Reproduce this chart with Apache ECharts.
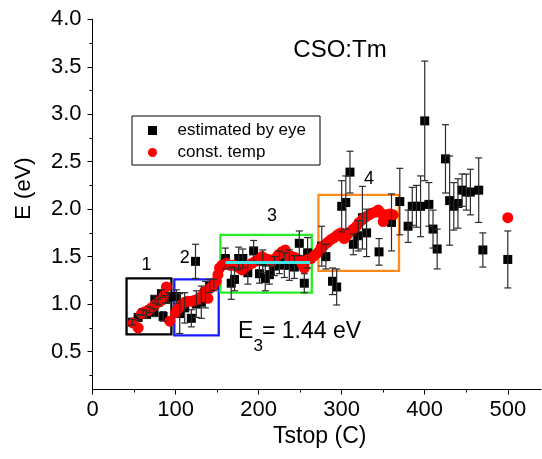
<!DOCTYPE html>
<html>
<head>
<meta charset="utf-8">
<script src="https://cdn.jsdelivr.net/npm/echarts@6/dist/echarts.min.js"></script>
<style>
  html, body { margin: 0; padding: 0; background: #fff; }
  #chart { width: 542px; height: 459px; }
</style>
</head>
<body>
<div id="chart"></div>
<script>
// Activation energy vs. stop temperature, CSO:Tm
const FONT = '"Liberation Sans", Arial, Helvetica, sans-serif';

// x tick marks (major and minor) and y tick marks
const xMajorTicks = [0, 100, 200, 300, 400, 500];
const xMinorTicks = [50, 150, 250, 350, 450];
const yMajorTicks = [0.5, 1.0, 1.5, 2.0, 2.5, 3.0, 3.5, 4.0];
const yMinorTicks = [0.25, 0.75, 1.25, 1.75, 2.25, 2.75, 3.25, 3.75];

// "estimated by eye": Tstop (C), E (eV), error (eV)
const tstopEye = [
  48, 55, 61, 65, 69, 74, 75, 79, 83, 85, 88, 91,
  101, 105, 111, 119, 124, 125, 131, 136, 141, 146,
  160, 167, 171, 176, 181, 187, 194, 201, 205, 208, 213, 219, 225, 231, 237, 243, 249, 255, 259,
  276, 281, 289, 294, 300, 305, 310, 314, 320, 325, 330, 345, 360,
  370, 380, 385, 390, 395, 400, 405, 410, 415, 425, 430, 435, 440, 445, 450, 455, 465, 470, 500
];
const energyEye = [
  0.81, 0.86, 0.91, 0.89, 0.94, 0.91, 1.05, 1.02, 1.11, 0.87, 1.05, 1.07,
  1.08, 0.90, 0.96, 0.85, 1.45, 1.00, 1.02, 1.10, 1.19, 1.20,
  1.48, 1.22, 1.26, 1.48, 1.48, 1.33, 1.56, 1.32, 1.45, 1.27, 1.31, 1.40, 1.44, 1.41, 1.41, 1.39, 1.64, 1.22, 1.54,
  1.61, 1.50, 1.24, 1.18, 2.03, 2.07, 2.39, 1.63, 1.72, 1.91, 1.75, 1.55, 1.86,
  2.08, 1.82, 2.03, 2.03, 2.03, 2.93, 2.05, 1.79, 1.58, 2.53, 2.09, 2.03, 2.06, 2.20, 2.18, 2.18, 2.20, 1.57, 1.47
];
const errorEye = [
  0.03, 0.03, 0.03, 0.04, 0.03, 0.04, 0.04, 0.03, 0.04, 0.05, 0.04, 0.05,
  0.07, 0.21, 0.16, 0.09, 0.18, 0.14, 0.17, 0.14, 0.07, 0.06,
  0.11, 0.17, 0.12, 0.12, 0.10, 0.12, 0.11, 0.10, 0.12, 0.13, 0.10, 0.10, 0.12, 0.13, 0.16, 0.12, 0.13, 0.10, 0.16,
  0.21, 0.13, 0.14, 0.19, 0.27, 0.28, 0.22, 0.11, 0.16, 0.33, 0.25, 0.14, 0.30,
  0.35, 0.17, 0.20, 0.22, 0.32, 0.63, 0.23, 0.20, 0.21, 0.36, 0.47, 0.25, 0.26, 0.17, 0.19, 0.24, 0.34, 0.18, 0.30
];

// "const. temp": Tstop (C), E (eV)
const tstopConst = [
  49, 55, 59, 63, 67, 71, 75, 79, 83, 86, 89, 93,
  100, 103, 107, 111, 115, 119, 123, 127, 131, 135, 139, 142, 145, 149,
  151, 153, 156, 161, 165, 169, 173, 177, 180, 184, 188, 192, 196, 200, 204, 208, 212, 216,
  220, 224, 228, 232, 236, 240, 244, 248, 252, 255, 259, 263, 267, 271,
  275, 279, 283, 287, 291, 295, 299, 303, 306, 310, 314, 318, 321, 325, 329, 333, 337, 341, 344,
  347, 350, 354, 358, 362, 500
];
const energyConst = [
  0.80, 0.75, 0.90, 0.92, 0.93, 0.96, 0.99, 1.02, 1.04, 1.09, 1.18, 0.82,
  0.91, 0.95, 0.99, 1.02, 1.03, 1.03, 1.04, 1.05, 1.08, 1.13, 1.06, 1.17, 1.20, 1.24,
  1.31, 1.38, 1.41, 1.43, 1.41, 1.41, 1.40, 1.38, 1.36, 1.39, 1.41, 1.43, 1.45, 1.47, 1.50, 1.48, 1.47, 1.45,
  1.48, 1.52, 1.55, 1.57, 1.51, 1.50, 1.49, 1.47, 1.43, 1.38, 1.47, 1.48, 1.51, 1.54,
  1.59, 1.62, 1.65, 1.68, 1.70, 1.73, 1.75, 1.69, 1.72, 1.76, 1.79, 1.82, 1.86, 1.89, 1.92, 1.94, 1.96, 1.97, 1.99,
  1.96, 1.87, 1.94, 1.95, 1.94, 1.91
];

// Temperature regions 1-4: [Tstart, Tend, Elow, Ehigh], outline colours and labels
const regionBounds = [
  [41, 95, 0.68, 1.27],
  [98.5, 152, 0.67, 1.26],
  [154, 264, 1.12, 1.73],
  [272, 369, 1.35, 2.15]
];
const regionColors = ['#000000', '#1a1aff', '#22ee22', '#ff8a1c'];
const regionLabels = ['1', '2', '3', '4'];
const regionLabelAt = [[65, 1.41], [111, 1.48], [216, 1.93], [333, 2.32]];

// Mean activation energy over region 3
const e3Value = 1.44;
const e3Range = [160, 262];

const eyeData = tstopEye.map((t, i) => [t, energyEye[i]]);
const errData = tstopEye.map((t, i) => [t, energyEye[i], errorEye[i]]);
const constData = tstopConst.map((t, i) => [t, energyConst[i]]);

function renderErrorBar(params, api) {
  const x = api.value(0), y = api.value(1), e = api.value(2);
  const top = api.coord([x, y + e]);
  const bot = api.coord([x, y - e]);
  const w = 3.5;
  const st = { stroke: '#2a2a2a', lineWidth: 1.2 };
  return {
    type: 'group',
    children: [
      { type: 'line', shape: { x1: top[0], y1: top[1], x2: bot[0], y2: bot[1] }, style: st },
      { type: 'line', shape: { x1: top[0] - w, y1: top[1], x2: top[0] + w, y2: top[1] }, style: st },
      { type: 'line', shape: { x1: bot[0] - w, y1: bot[1], x2: bot[0] + w, y2: bot[1] }, style: st }
    ]
  };
}

const chart = echarts.init(document.getElementById('chart'), null, { renderer: 'canvas' });

const tickLabelStyle = { color: '#000', fontSize: 22, fontFamily: FONT };

const option = {
  animation: false,
  backgroundColor: '#fff',
  textStyle: { fontFamily: FONT },
  grid: { left: 92.5, right: 1, top: 19.3, bottom: 69.5, containLabel: false },
  legend: {
    orient: 'vertical',
    left: 132, top: 116,
    padding: [6, 14, 4, 16],
    itemGap: 5,
    itemWidth: 40, itemHeight: 9,
    borderColor: '#000', borderWidth: 1,
    textStyle: { fontSize: 17, color: '#000', fontFamily: FONT },
    selectedMode: false,
    data: [
      { name: 'estimated by eye', icon: 'path://M0,0L10,0L10,10L0,10Z' },
      { name: 'const. temp', icon: 'circle' }
    ]
  },
  xAxis: [
    {
      type: 'value', min: 0, max: 540, position: 'bottom',
      axisLine: { lineStyle: { color: '#000', width: 1 } },
      axisTick: { customValues: xMajorTicks, length: 5, lineStyle: { color: '#000' } },
      axisLabel: Object.assign({ customValues: xMajorTicks, margin: 9 }, tickLabelStyle),
      splitLine: { show: false },
      name: 'Tstop (C)', nameLocation: 'middle', nameGap: 29,
      nameTextStyle: { fontSize: 23, color: '#000', fontFamily: FONT, padding: [0, 0, 0, 6] }
    },
    {
      type: 'value', min: 0, max: 540, position: 'bottom',
      axisLine: { show: false },
      axisTick: { customValues: xMinorTicks, length: 3, lineStyle: { color: '#000' } },
      axisLabel: { show: false },
      splitLine: { show: false }
    }
  ],
  yAxis: [
    {
      type: 'value', min: 0.1, max: 4.0, position: 'left',
      axisLine: { show: true, lineStyle: { color: '#000', width: 1 } },
      axisTick: { show: true, customValues: yMajorTicks, length: 5, lineStyle: { color: '#000' } },
      axisLabel: Object.assign({ customValues: yMajorTicks, margin: 11, formatter: v => v.toFixed(1) }, tickLabelStyle),
      splitLine: { show: false }
    },
    {
      type: 'value', min: 0.1, max: 4.0, position: 'left',
      axisLine: { show: false },
      axisTick: { show: true, customValues: yMinorTicks, length: 3, lineStyle: { color: '#000' } },
      axisLabel: { show: false },
      splitLine: { show: false }
    }
  ],
  graphic: [
    {
      type: 'text', x: 23.5, y: 188.5, rotation: Math.PI / 2,
      style: { text: 'E (eV)', fill: '#000', fontSize: 22, fontFamily: FONT, align: 'center', verticalAlign: 'middle' }
    },
    {
      type: 'text', x: 340, y: 50.5,
      style: { text: 'CSO:Tm', fill: '#000', fontSize: 24, fontFamily: FONT, align: 'center', verticalAlign: 'middle' }
    },
    {
      type: 'text', x: 238, y: 331.2,
      style: { text: 'E', fill: '#000', fontSize: 23, fontFamily: FONT, align: 'left', verticalAlign: 'middle' }
    },
    {
      type: 'text', x: 253.5, y: 346.7,
      style: { text: '3', fill: '#000', fontSize: 17, fontFamily: FONT, align: 'left', verticalAlign: 'middle' }
    },
    {
      type: 'text', x: 262, y: 331.2,
      style: { text: '= ' + e3Value.toFixed(2) + ' eV', fill: '#000', fontSize: 23, fontFamily: FONT, align: 'left', verticalAlign: 'middle' }
    }
  ],
  series: [
    {
      name: 'estimated by eye', type: 'scatter',
      xAxisIndex: 0, yAxisIndex: 0,
      symbol: 'rect', symbolSize: 9,
      itemStyle: { color: '#000', opacity: 1 },
      data: eyeData, z: 2
    },
    {
      name: 'const. temp', type: 'scatter',
      xAxisIndex: 0, yAxisIndex: 0,
      symbol: 'circle', symbolSize: 11,
      itemStyle: { color: '#ff0000', opacity: 1 },
      data: constData, z: 3
    },
    {
      name: 'error', type: 'custom',
      xAxisIndex: 0, yAxisIndex: 0,
      renderItem: renderErrorBar,
      encode: { x: 0, y: 1 },
      data: errData, z: 4, silent: true
    },
    {
      name: 'regions', type: 'scatter',
      xAxisIndex: 0, yAxisIndex: 0,
      data: [], z: 6, silent: true,
      markArea: {
        silent: true,
        data: regionBounds.map((b, i) => [
          { xAxis: b[0], yAxis: b[3], itemStyle: { color: 'rgba(0,0,0,0)', borderColor: regionColors[i], borderWidth: 2.3 } },
          { xAxis: b[1], yAxis: b[2] }
        ])
      },
      markLine: {
        silent: true, symbol: 'none',
        label: { show: false },
        lineStyle: { color: '#3ee6e6', width: 3, type: 'solid' },
        data: [[{ coord: [e3Range[0], e3Value] }, { coord: [e3Range[1], e3Value] }]]
      },
      markPoint: {
        silent: true, symbol: 'circle', symbolSize: 0,
        label: { show: true, position: 'inside', color: '#000', fontSize: 18, fontFamily: FONT, formatter: p => p.name },
        data: regionLabels.map((n, i) => ({ name: n, coord: regionLabelAt[i] }))
      }
    }
  ]
};

chart.setOption(option);
</script>
</body>
</html>
